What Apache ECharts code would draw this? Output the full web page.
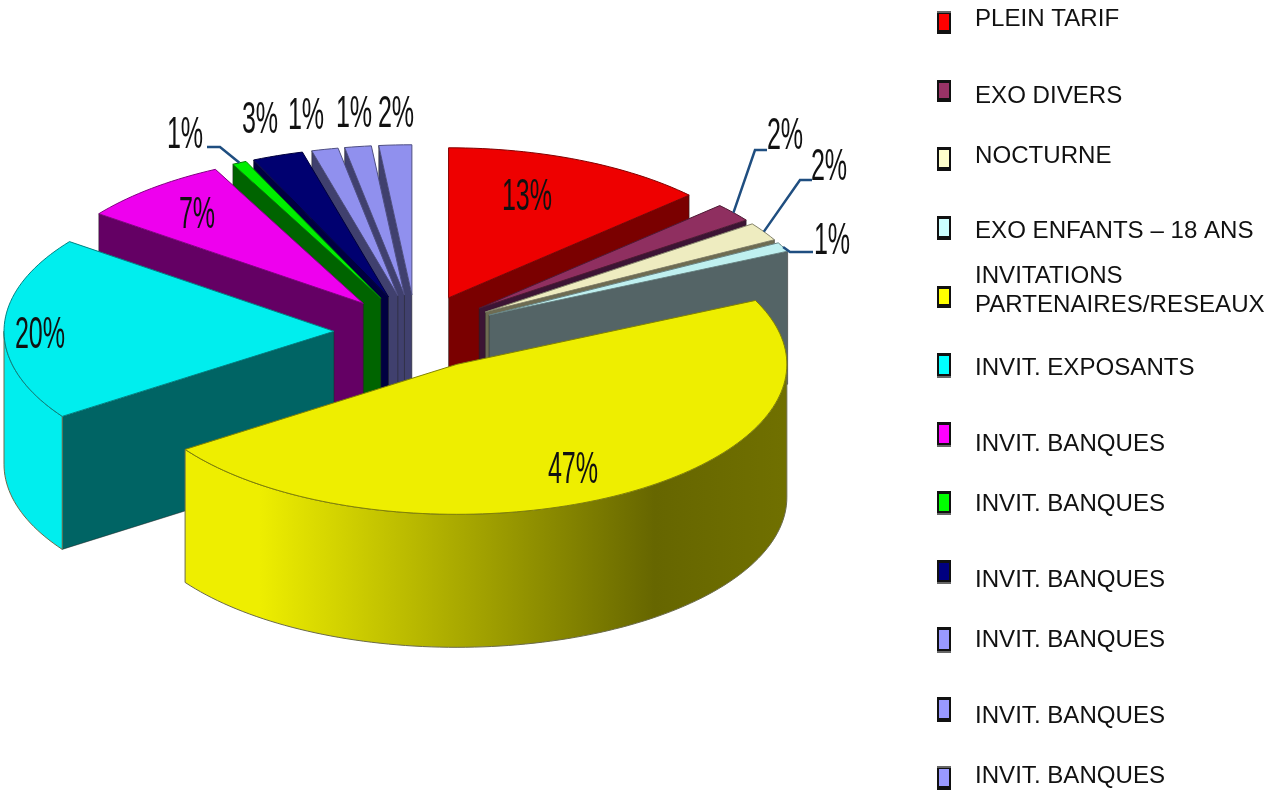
<!DOCTYPE html>
<html>
<head>
<meta charset="utf-8">
<style>
  html, body { margin: 0; padding: 0; background: #fff; }
  #chart { width: 1265px; height: 794px; }
</style>
</head>
<body>
<div id="chart"></div>
<script src="https://cdn.jsdelivr.net/npm/echarts@6/dist/echarts.min.js"></script>
<script>
// data, the printed labels are these shares rounded
const categories = [
  "PLEIN TARIF", "EXO DIVERS", "NOCTURNE", "EXO ENFANTS – 18 ANS",
  "INVITATIONS\nPARTENAIRES/RESEAUX", "INVIT. EXPOSANTS", "INVIT. BANQUES", "INVIT. BANQUES",
  "INVIT. BANQUES", "INVIT. BANQUES", "INVIT. BANQUES", "INVIT. BANQUES"
];
const shares = [13, 2, 2, 1, 47.4, 19.8, 7.4, 0.7, 2.5, 1.3, 1.3, 1.6];

// colours
const legendColors = ["#ff0000", "#993366", "#ffffcc", "#ccffff", "#ffff00", "#00ffff", "#ff00ff", "#00ff00", "#000080", "#9999ff", "#9999ff", "#9999ff"];
const topColors = ["#ee0000", "#8f2f60", "#eeecc0", "#bff0f0", "#eeee00", "#00eeee", "#ee00ee", "#00ee00", "#000070", "#9090ee", "#9090ee", "#9090ee"];
const wallColors = ["#7a0000", "#3c1434", "#6e6c52", "#546466", "#666600", "#006464", "#640064", "#006400", "#000040", "#40406e", "#40406e", "#40406e"];

// pie layout
const centerX = 416, centerY = 332;
const radiusX = 330, radiusY = 150;
const depth = 133;
const explode = 82;

// label layout: [text centre x, text centre y, elbow x, elbow y]
const labelLayout = [
  [527, 198], [785, 137, 755, 150], [829, 168, 800, 180], [832, 242, 790, 252],
  [573, 471], [40, 336], [197, 216], [185, 136, 220, 147],
  [260, 121], [306, 117], [354, 115], [396, 115]
];
const leaderEndGap = [0, 12, 12, 23, 0, 0, 0, -13, 0, 0, 0, 0];

// legend layout
const legendTextY = [19, 96, 156, 231, 291, 368, 444, 504, 580, 640, 716, 776];
const legendMarkTop = [11, 80, 147, 216, 286, 353, 422, 491, 560, 627, 697, 766];
const legendMarkHeight = [23, 22, 24, 24, 22, 25, 25, 24, 24, 26, 25, 24];
const legendGreyEdge = ["top", "", "", "", "", "bottom", "bottom", "bottom", "bottom", "bottom", "", "top"];

const toRad = Math.PI / 180;
const total = shares.reduce((a, b) => a + b, 0);

// start and end angle of every slice, clockwise from 12 o'clock
let run = 0;
const slices = shares.map((v) => {
  const a0 = run / total * 360;
  run += v;
  return { a0: a0, a1: run / total * 360, mid: (a0 + run / total * 360) / 2 };
});
slices.forEach((s) => {
  s.x = centerX + explode * Math.sin(s.mid * toRad);
  s.y = centerY - explode * Math.cos(s.mid * toRad) * radiusY / radiusX;
});

function rim(s, a, down) {
  return [
    s.x + radiusX * Math.sin(a * toRad),
    s.y - radiusY * Math.cos(a * toRad) + (down || 0)
  ];
}

function arcPoints(s, from, to, down) {
  const pts = [];
  const n = Math.max(2, Math.ceil((to - from) / 1.5));
  for (let i = 0; i <= n; i++) {
    pts.push(rim(s, from + (to - from) * i / n, down));
  }
  return pts;
}

function scaleHex(hex, k) {
  const c = [1, 3, 5].map((i) => Math.round(parseInt(hex.substr(i, 2), 16) * k));
  return "rgb(" + c.join(",") + ")";
}

// back slices first, the yellow one ends up on top
const paintOrder = shares.map((v, i) => i).sort((a, b) => Math.cos(slices[b].mid * toRad) - Math.cos(slices[a].mid * toRad));

function wallQuad(s, a, fill) {
  const p = rim(s, a);
  return {
    type: "polygon",
    shape: { points: [[s.x, s.y], p, [p[0], p[1] + depth], [s.x, s.y + depth]] },
    style: { fill: fill, stroke: "#222", lineWidth: 0.5 }
  };
}

function renderSlice(params, api) {
  const i = api.value(0);
  const s = slices[i];
  const children = [];

  // flat walls facing the viewer
  if (Math.sin(s.a0 * toRad) < 0) children.push(wallQuad(s, s.a0, wallColors[i]));
  if (Math.sin(s.a1 * toRad) > 0) children.push(wallQuad(s, s.a1, wallColors[i]));

  // curved wall, only the front half of the rim shows
  const from = Math.max(s.a0, 90), to = Math.min(s.a1, 270);
  if (to > from) {
    const top = arcPoints(s, from, to, 0);
    const bottom = arcPoints(s, from, to, depth).reverse();
    children.push({
      type: "polygon",
      shape: { points: top.concat(bottom) },
      style: {
        fill: new echarts.graphic.LinearGradient(s.x - radiusX, 0, s.x + radiusX, 0, [
          { offset: 0, color: topColors[i] },
          { offset: 0.2, color: topColors[i] },
          { offset: 0.8, color: wallColors[i] },
          { offset: 1, color: scaleHex(topColors[i], 0.47) }
        ], true),
        stroke: "#6b6b4a",
        lineWidth: 1
      }
    });
  }

  // top face
  children.push({
    type: "polygon",
    shape: { points: [[s.x, s.y]].concat(arcPoints(s, s.a0, s.a1, 0)) },
    style: { fill: topColors[i], stroke: scaleHex(topColors[i], 0.55), lineWidth: 1 }
  });

  children.forEach((c) => { c.z2 = paintOrder.indexOf(i) + 1; });
  return { type: "group", children: children };
}

function renderLabel(params, api) {
  const i = api.value(0);
  const l = labelLayout[i];
  const children = [];
  if (l[2] !== undefined) {
    const from = rim(slices[i], slices[i].mid);
    children.push({
      type: "polyline",
      shape: { points: [from, [l[2], l[3]], [l[2] + leaderEndGap[i], l[3]]] },
      style: { stroke: "#1f4e80", lineWidth: 2.5, fill: "none" }
    });
  }
  children.push({
    type: "text",
    x: l[0],
    y: l[1],
    scaleX: 0.57,
    style: {
      x: 0,
      y: 0,
      text: Math.round(shares[i]) + "%",
      font: '44px "Liberation Sans"',
      fill: "#111",
      textAlign: "center",
      textVerticalAlign: "middle"
    }
  });
  return { type: "group", children: children };
}

function renderLegend(params, api) {
  const i = api.value(0);
  const top = legendMarkTop[i], h = legendMarkHeight[i];
  const children = [
    { type: "rect", shape: { x: 937, y: top, width: 14, height: h }, style: { fill: "#111" } },
    { type: "rect", shape: { x: 939, y: top + 3, width: 10, height: h - 7 }, style: { fill: legendColors[i] } }
  ];
  if (legendGreyEdge[i]) {
    children.push({
      type: "rect",
      shape: { x: 937, y: legendGreyEdge[i] === "top" ? top : top + h - 2, width: 14, height: 2 },
      style: { fill: "#666" }
    });
  }
  children.push({
    type: "text",
    style: {
      x: 975,
      y: legendTextY[i],
      text: categories[i],
      font: '24.1px "Liberation Sans"',
      lineHeight: 29,
      fill: "#111",
      textAlign: "left",
      textVerticalAlign: "middle"
    }
  });
  return { type: "group", children: children };
}

const chart = echarts.init(document.getElementById("chart"));
chart.setOption({
  animation: false,
  backgroundColor: "#fff",
  series: [
    { type: "custom", coordinateSystem: "none", silent: true, z: 2, renderItem: renderSlice, data: paintOrder.map((i) => [i]) },
    { type: "custom", coordinateSystem: "none", silent: true, z: 3, renderItem: renderLabel, data: shares.map((v, i) => [i]) },
    { type: "custom", coordinateSystem: "none", silent: true, z: 3, renderItem: renderLegend, data: categories.map((v, i) => [i]) }
  ]
});
</script>
</body>
</html>
